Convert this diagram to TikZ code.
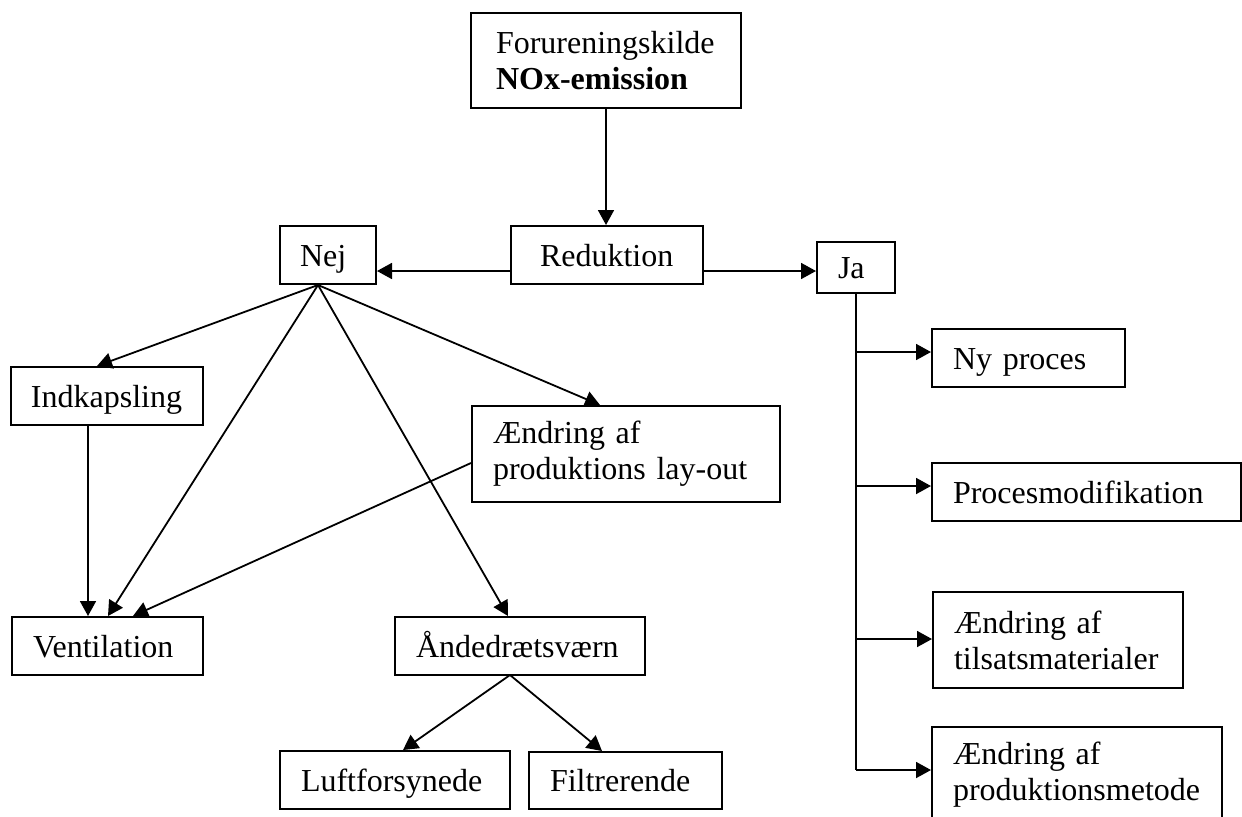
\documentclass[tikz,border=0pt]{standalone}
\usepackage{fontspec}
\setmainfont{Liberation Serif}
\usetikzlibrary{arrows.meta,calc}
\begin{document}
\begin{tikzpicture}[x=0.5pt,y=-0.5pt,
  bx/.style n args={3}{draw, line width=1pt, rectangle, text width=#1, minimum height=#2,
    inner xsep=#3, inner ysep=0pt, align=left, font=\fontsize{16pt}{18pt}\selectfont},
  one/.style={text height=12pt, text depth=1pt},
  arr/.style={line width=0.9pt, -{Triangle[length=7.5pt,width=8pt]}},
  ln/.style={line width=0.9pt}]
\useasboundingbox (0,0) rectangle (1242,816);

\node[bx={110pt}{47.5pt}{12.5pt}, line width=1.4pt] (top) at (606,60.5) {Forureningskilde\\\textbf{NOx-emission}};
\node[bx={67pt}{29pt}{14.5pt}, one] (red) at (607,255) {Reduktion};
\node[bx={28pt}{29pt}{10pt}, one] (nej) at (328,255) {Nej};
\node[bx={18pt}{25.5pt}{10.5pt}, one] (ja) at (856,267.5) {Ja};
\node[bx={76pt}{29pt}{10pt}, one] (ind) at (107,396) {Indkapsling};
\node[bx={74.5pt}{29pt}{10.5pt}, one] (ven) at (107.5,646) {Ventilation};
\node[bx={133pt}{48pt}{10.5pt}] (lay) at (626,454) {Ændring af\\produktions lay-out};
\node[bx={104pt}{29pt}{10.5pt}, one] (and) at (520,646) {Åndedrætsværn};
\node[bx={94pt}{29pt}{10.5pt}, one] (luf) at (395,780) {Luftforsynede};
\node[bx={75.5pt}{28.5pt}{10.5pt}, one] (fil) at (625.5,780.5) {Filtrerende};
\node[bx={75.5pt}{29pt}{10.5pt}, one] (ny) at (1028.5,358) {Ny proces};
\node[bx={133.5pt}{29pt}{10.5pt}, one] (pm) at (1086.5,492) {Procesmodifikation};
\node[bx={104pt}{48pt}{10.5pt}] (tm) at (1058,640) {Ændring af\\tilsatsmaterialer};
\node[bx={124pt}{48pt}{10.5pt}] (pmt) at (1077,775) {Ændring af\\produktionsmetode};

\coordinate (y271) at (0,271);
\coordinate (nb) at (318,285);
\coordinate (ab) at (510,675);
\coordinate (j1) at (856,352);
\coordinate (j2) at (856,486);
\coordinate (j3) at (856,639);
\coordinate (j4) at (856,770);
\coordinate (l1) at (0,463);
\coordinate (x88) at (88,0);
\coordinate (x97) at (97,0);
\coordinate (x108) at (108,0);
\coordinate (x133) at (133,0);
\coordinate (x600) at (600,0);
\coordinate (x508) at (508,0);
\coordinate (x403) at (403,0);
\coordinate (x602) at (602,0);

\draw[arr] (top.south) -- (top.south |- red.north);
\draw[arr] (red.west |- y271) -- (nej.east |- y271);
\draw[arr] (red.east |- y271) -- (ja.west |- y271);

\draw[ln] (ja.south) -- (j4);
\draw[arr] (j1) -- (ny.west |- j1);
\draw[arr] (j2) -- (pm.west |- j2);
\draw[arr] (j3) -- (tm.west |- j3);
\draw[arr] (j4) -- (pmt.west |- j4);

\draw[arr] (nb) -- (ind.north -| x97);
\draw[arr] (nb) -- (ven.north -| x108);
\draw[arr] (nb) -- (lay.north -| x600);
\draw[arr] (nb) -- (and.north -| x508);
\draw[arr] (ind.south -| x88) -- (ven.north -| x88);
\draw[arr] (lay.west |- l1) -- (ven.north -| x133);
\draw[arr] (ab) -- (luf.north -| x403);
\draw[arr] (ab) -- (fil.north -| x602);
\end{tikzpicture}
\end{document}
